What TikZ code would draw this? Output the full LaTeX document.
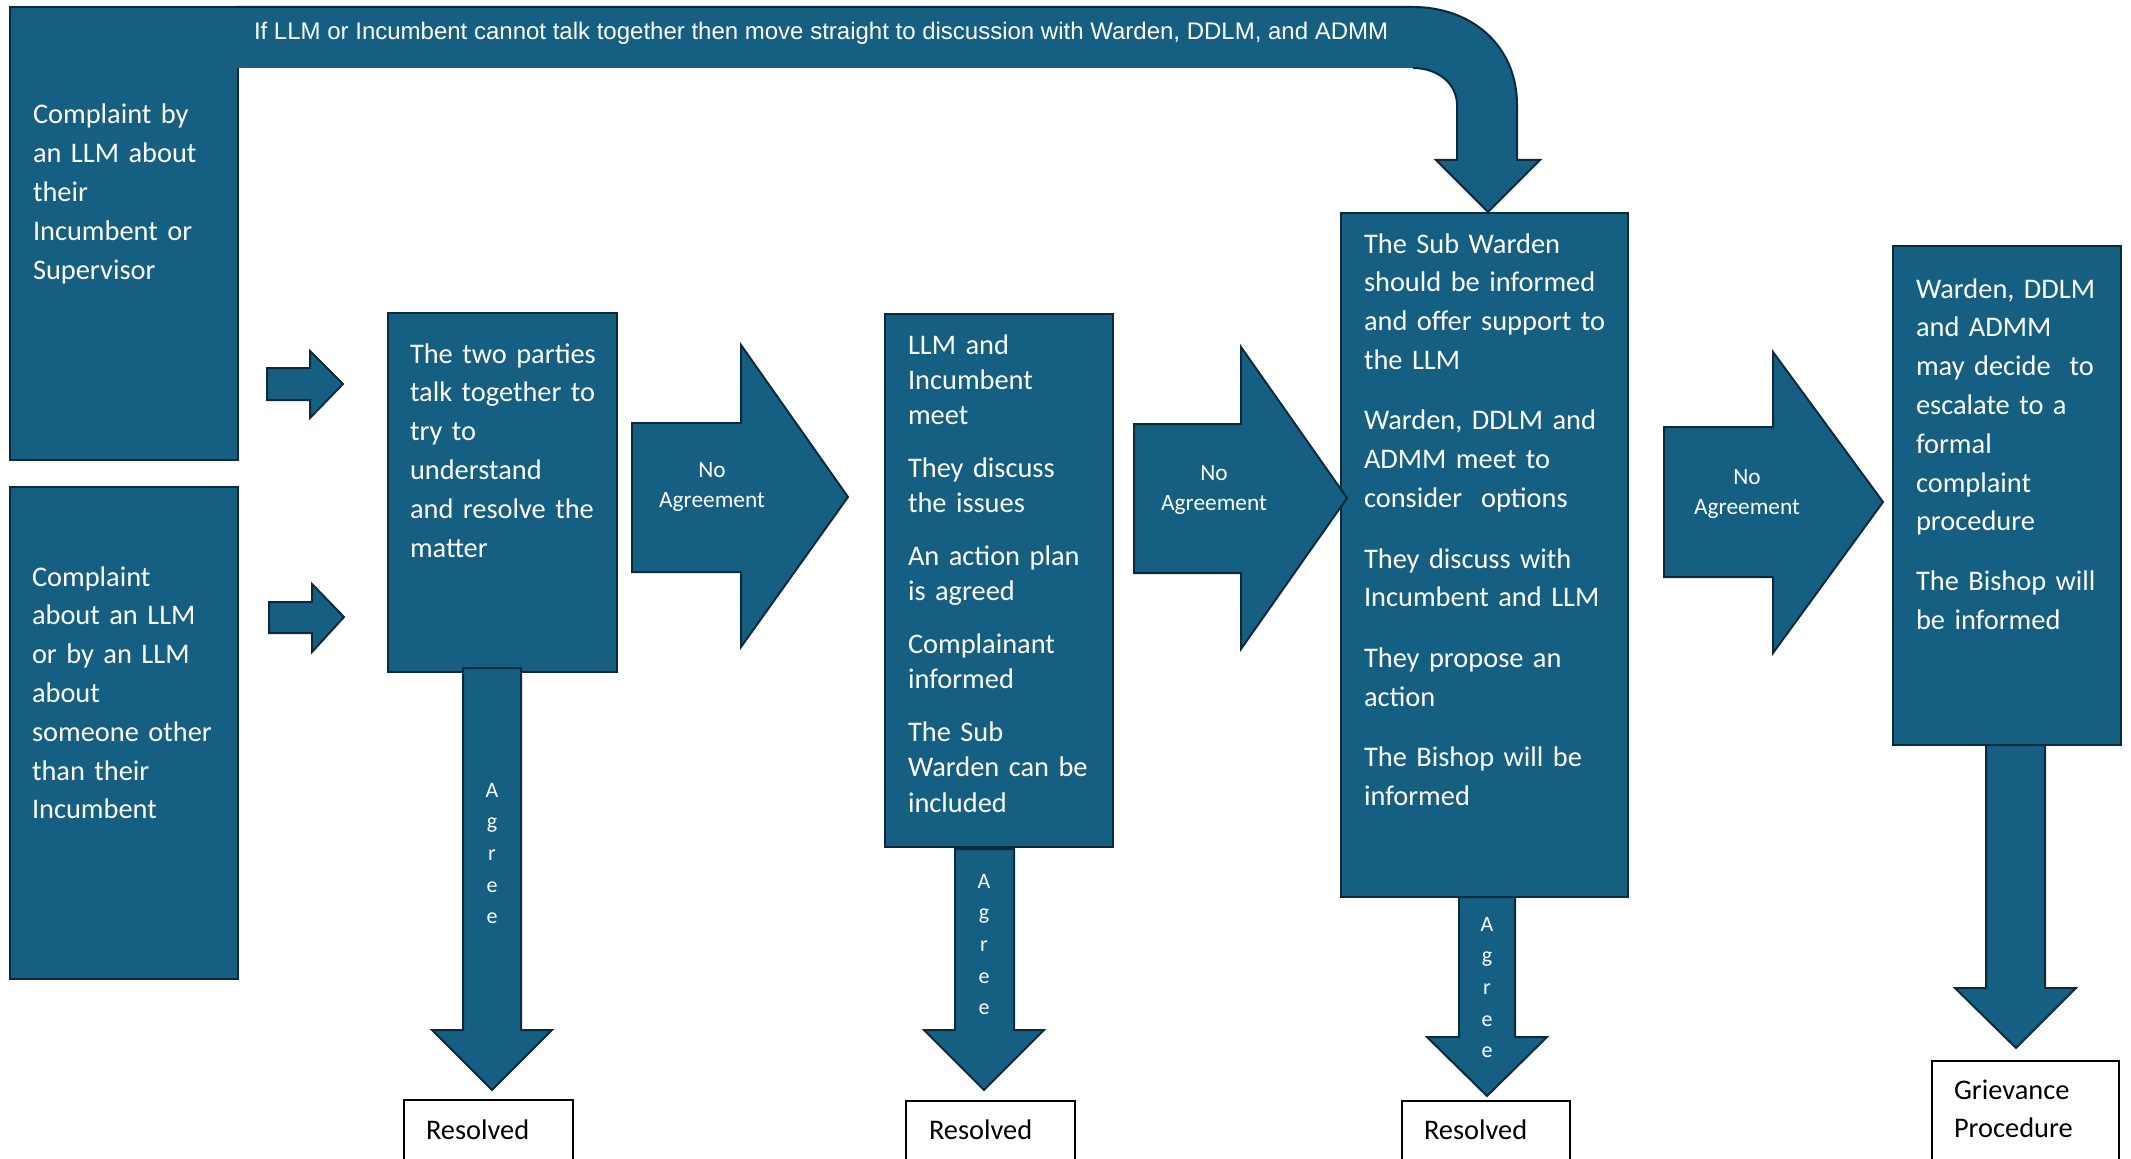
\documentclass[tikz,border=0pt]{standalone}
\usepackage{fontspec}
\setmainfont{Carlito}
\newfontfamily\arialfont{Liberation Sans}
\definecolor{boxfill}{HTML}{156082}
\definecolor{boxedge}{HTML}{0B2A3B}

\tikzset{every picture/.style={line width=1.5pt}}
\tikzset{
  panel/.style={draw=boxedge, fill=boxfill},
  resbox/.style={draw=black, fill=white},
  boxtxt/.style={text=white, inner sep=0pt, anchor=base west, align=left, text width=220pt, font=\fontsize{21.3}{29.1}\selectfont},
  tighttxt/.style={boxtxt, font=\fontsize{21.3}{26.6}\selectfont},
  restxt/.style={text=black, inner sep=0pt, anchor=base west, align=left, text width=150pt, font=\fontsize{21.3}{29.2}\selectfont},
  natxt/.style={text=white, inner sep=0pt, anchor=base, align=center, text width=110pt, font=\fontsize{17.5}{22.5}\selectfont},
  agreetxt/.style={text=white, inner sep=0pt, anchor=base, align=center, text width=20pt, font=\fontsize{16.5}{23.8}\selectfont},
  bantxt/.style={text=white, inner sep=0pt, anchor=base west, font=\arialfont\fontsize{18}{21}\selectfont}
}

\begin{document}
\begin{tikzpicture}[x=0.75pt,y=0.75pt,yscale=-1,xscale=1]
        \useasboundingbox (0,0) rectangle (2131,1159);

        %Shape: Rectangle [complaint by LLM]
        \draw [panel] (10,7) rectangle (238,460);
        %Shape: Rectangle [complaint about LLM]
        \draw [panel] (10,487) rectangle (238,979);
        %Shape: Rectangle [talk together]
        \draw [panel] (388,313) rectangle (617,672);
        %Shape: Rectangle [LLM and Incumbent meet]
        \draw [panel] (885,314) rectangle (1113,847);
        %Shape: Rectangle [Sub Warden]
        \draw [panel] (1341,213) rectangle (1628,897);
        %Shape: Rectangle [escalate]
        \draw [panel] (1893,246) rectangle (2121,745);

        %Shape: Bent Arrow [banner]
        \fill [boxfill] (237,7) -- (1413,7) .. controls (1471,7) and (1517,45) .. (1517,105) -- (1517,160) -- (1540,160) -- (1488,212) -- (1436,160) -- (1457,160) -- (1457,105) .. controls (1457,83) and (1437,68) .. (1413,68) -- (237,68) -- cycle ;
        \draw [boxedge] (237,7) -- (1413,7) .. controls (1471,7) and (1517,45) .. (1517,105) -- (1517,160) -- (1540,160) -- (1488,212) -- (1436,160) -- (1457,160) -- (1457,105) .. controls (1457,83) and (1437,68) .. (1413,68) ;

        %Shape: Right Arrow [small 1]
        \draw [panel] (267,368) -- (310,368) -- (310,351) -- (343,384) -- (310,418) -- (310,400) -- (267,400) -- cycle ;
        %Shape: Right Arrow [small 2]
        \draw [panel] (269,602) -- (312,602) -- (312,584) -- (344,617) -- (312,652) -- (312,633) -- (269,633) -- cycle ;
        %Shape: Right Arrow [no agreement 1]
        \draw [panel] (632,423) -- (741,423) -- (741,345) -- (848,497) -- (741,647) -- (741,572) -- (632,572) -- cycle ;
        %Shape: Right Arrow [no agreement 2]
        \draw [panel] (1134,424) -- (1241,424) -- (1241,347) -- (1347,498) -- (1241,649) -- (1241,573) -- (1134,573) -- cycle ;
        %Shape: Right Arrow [no agreement 3]
        \draw [panel] (1664,427) -- (1773,427) -- (1773,352) -- (1883,502) -- (1773,653) -- (1773,577) -- (1664,577) -- cycle ;

        %Shape: Down Arrow [agree 1]
        \draw [panel] (463,668) -- (521,668) -- (521,1030) -- (552,1030) -- (492,1090) -- (432,1030) -- (463,1030) -- cycle ;
        %Shape: Down Arrow [agree 2]
        \draw [panel] (955,849) -- (1014,849) -- (1014,1030) -- (1044,1030) -- (984,1090) -- (924,1030) -- (955,1030) -- cycle ;
        %Shape: Down Arrow [agree 3]
        \draw [panel] (1459,897) -- (1515,897) -- (1515,1037) -- (1547,1037) -- (1487,1096) -- (1427,1037) -- (1459,1037) -- cycle ;
        %Shape: Down Arrow [to grievance]
        \draw [panel] (1986,745) -- (2045,745) -- (2045,988) -- (2076,988) -- (2016,1048) -- (1955,988) -- (1986,988) -- cycle ;

        %Shape: Rectangle [outcomes]
        \draw [resbox] (404,1100) rectangle (573,1175);
        \draw [resbox] (906,1101) rectangle (1075,1175);
        \draw [resbox] (1402,1101) rectangle (1570,1175);
        \draw [resbox] (1932,1061) rectangle (2119,1175);

        % Text Node
        \draw (253,40) node (banner) [bantxt] {If LLM or Incumbent cannot talk together then move straight to discussion with Warden, DDLM, and ADMM};
        % Text Node
        \draw (32,124) node (startA) [boxtxt] {Complaint by\\an LLM about\\their\\Incumbent or\\Supervisor};
        % Text Node
        \draw (31,586) node (startB) [boxtxt] {Complaint\\about an LLM\\or by an LLM\\about\\someone other\\than their\\Incumbent};
        % Text Node
        \draw (409,363) node (talk) [boxtxt] {The two parties\\talk together to\\try to\\understand\\and resolve the\\matter};
        % Text Node
        \draw (907,354) node (meet) [tighttxt] {LLM and\\Incumbent\\meet\\[12.75pt]They discuss\\the issues\\[12.75pt]An action plan\\is agreed\\[12.75pt]Complainant\\informed\\[12.75pt]The Sub\\Warden can be\\included};
        % Text Node
        \draw (1363,253) node (subwarden) [boxtxt] {The Sub Warden\\should be informed\\and offer support to\\the LLM\\[16.3pt]Warden, DDLM and\\ADMM meet to\\consider~~options\\[16.3pt]They discuss with\\Incumbent and LLM\\[16.3pt]They propose an\\action\\[16.3pt]The Bishop will be\\informed};
        % Text Node
        \draw (1915,298) node (escalate) [boxtxt] {Warden, DDLM\\and ADMM\\may decide~~to\\escalate to a\\formal\\complaint\\procedure\\[15.75pt]The Bishop will\\be informed};

        % Text Node
        \draw (712,477) node (noagrA) [natxt] {No\\Agreement};
        % Text Node
        \draw (1214,480) node (noagrB) [natxt] {No\\Agreement};
        % Text Node
        \draw (1747,484) node (noagrC) [natxt] {No\\Agreement};

        % Text Node
        \draw (492,797) node (agreeA) [agreetxt] {A\\g\\r\\e\\e};
        % Text Node
        \draw (984,888) node (agreeB) [agreetxt] {A\\g\\r\\e\\e};
        \begin{scope}
        \clip (1440,897) rectangle (1535,1057);
        % Text Node
        \draw (1487,931) node (agreeC) [agreetxt] {A\\g\\r\\e\\e};
        \end{scope}

        % Text Node
        \draw (425,1139) node (resA) [restxt] {Resolved};
        % Text Node
        \draw (928,1139) node (resB) [restxt] {Resolved};
        % Text Node
        \draw (1423,1139) node (resC) [restxt] {Resolved};
        % Text Node
        \draw (1953,1099) node (grievance) [restxt] {Grievance\\Procedure};
\end{tikzpicture}
\end{document}
